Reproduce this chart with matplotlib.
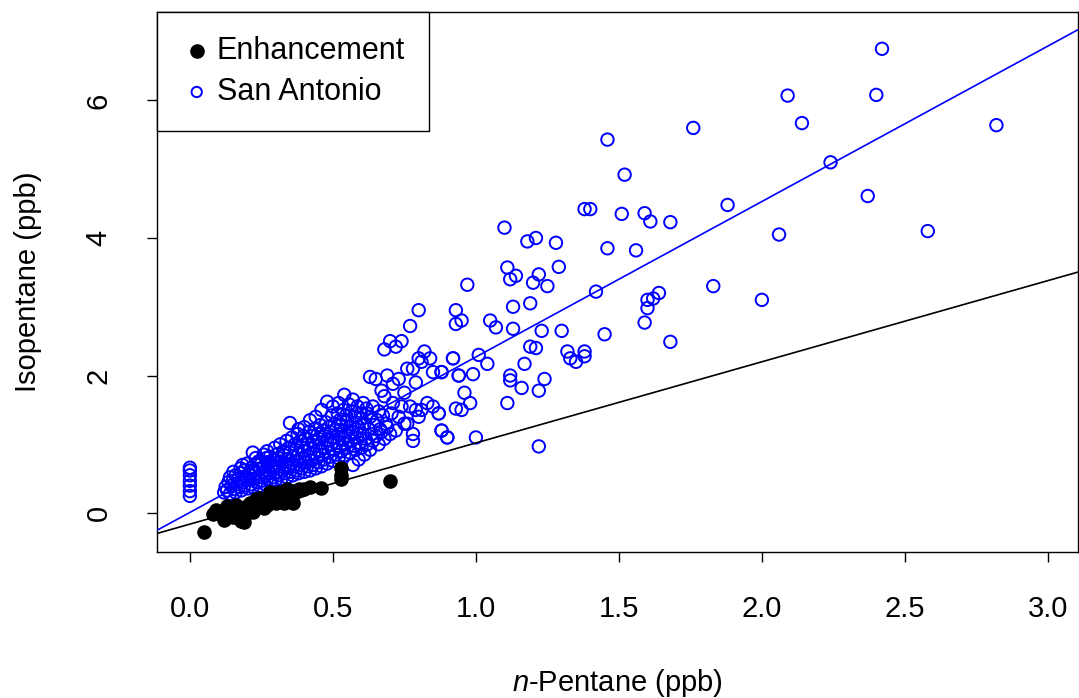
import numpy as np
import matplotlib.pyplot as plt

plt.rcParams['font.family'] = ['Liberation Sans', 'DejaVu Sans']
plt.rcParams['mathtext.fontset'] = 'custom'
plt.rcParams['mathtext.it'] = 'Liberation Sans:italic'
plt.rcParams['mathtext.rm'] = 'Liberation Sans'

# Enhancement points (n-pentane, isopentane), ppb
enhancement = [
    (0.05, -0.27), (0.08, -0.02), (0.09, 0.05), (0.10, 0.00), (0.12, -0.10),
    (0.13, 0.10), (0.14, 0.05), (0.15, -0.05), (0.16, 0.12), (0.17, 0.00),
    (0.18, -0.12), (0.18, 0.05), (0.19, -0.13), (0.20, 0.10), (0.21, 0.15),
    (0.22, 0.08), (0.23, 0.20), (0.24, 0.12), (0.25, 0.10), (0.26, 0.20),
    (0.26, 0.08), (0.27, 0.22), (0.28, 0.15), (0.28, 0.30), (0.29, 0.20),
    (0.30, 0.25), (0.30, 0.15), (0.31, 0.30), (0.32, 0.20), (0.33, 0.28),
    (0.33, 0.15), (0.34, 0.35), (0.35, 0.25), (0.36, 0.15), (0.37, 0.30),
    (0.38, 0.35), (0.40, 0.35), (0.42, 0.38), (0.46, 0.37), (0.53, 0.50),
    (0.53, 0.55), (0.53, 0.65), (0.70, 0.47), (0.22, 0.02), (0.19, -0.05),
    (0.24, 0.22), (0.27, 0.12), (0.36, 0.32), (0.39, 0.33), (0.15, 0.08),
]

# San Antonio: samples with zero n-pentane
sa_zero = [(0.0, 0.25), (0.0, 0.32), (0.0, 0.40), (0.0, 0.47), (0.0, 0.55),
           (0.0, 0.62), (0.0, 0.66)]

# San Antonio: dense low-concentration cluster
sa_dense = [
    (0.12, 0.30), (0.125, 0.38), (0.13, 0.33), (0.135, 0.45), (0.14, 0.28),
    (0.145, 0.40), (0.14, 0.52), (0.155, 0.35), (0.15, 0.47), (0.152, 0.60),
    (0.16, 0.30), (0.165, 0.42), (0.16, 0.55), (0.172, 0.38), (0.17, 0.50),
    (0.177, 0.65), (0.18, 0.33), (0.186, 0.45), (0.18, 0.58), (0.184, 0.70),
    (0.19, 0.40), (0.196, 0.52), (0.19, 0.62), (0.203, 0.36), (0.20, 0.48),
    (0.207, 0.57), (0.20, 0.72),
    (0.213, 0.42), (0.21, 0.55), (0.216, 0.66), (0.22, 0.38), (0.224, 0.50),
    (0.22, 0.62), (0.22, 0.88), (0.233, 0.45), (0.23, 0.58), (0.236, 0.70),
    (0.23, 0.80), (0.244, 0.40), (0.24, 0.52), (0.247, 0.65), (0.24, 0.75),
    (0.25, 0.47), (0.255, 0.60), (0.25, 0.72), (0.258, 0.85), (0.26, 0.43),
    (0.264, 0.55), (0.26, 0.68), (0.267, 0.80), (0.27, 0.50), (0.275, 0.62),
    (0.27, 0.74), (0.27, 0.90), (0.283, 0.46), (0.28, 0.58), (0.286, 0.70),
    (0.28, 0.82), (0.29, 0.52), (0.294, 0.65), (0.29, 0.77), (0.297, 0.95),
    (0.30, 0.48), (0.305, 0.60), (0.30, 0.73), (0.307, 0.86),
    (0.31, 0.55), (0.314, 0.68), (0.31, 0.80), (0.316, 1.00), (0.32, 0.50),
    (0.325, 0.62), (0.32, 0.75), (0.327, 0.90), (0.33, 0.58), (0.334, 0.70),
    (0.33, 0.84), (0.338, 1.05), (0.34, 0.52), (0.345, 0.66), (0.34, 0.78),
    (0.346, 0.95), (0.35, 0.60), (0.355, 0.72), (0.35, 0.88), (0.357, 1.10),
    (0.35, 1.31), (0.36, 0.55), (0.364, 0.68), (0.36, 0.82), (0.367, 1.00),
    (0.37, 0.62), (0.374, 0.76), (0.37, 0.92), (0.377, 1.15), (0.38, 0.58),
    (0.385, 0.70), (0.38, 0.86), (0.386, 1.05), (0.38, 1.22), (0.39, 0.65),
    (0.394, 0.80), (0.39, 0.96), (0.397, 1.12), (0.40, 0.60), (0.405, 0.74),
    (0.40, 0.90), (0.404, 1.08), (0.40, 1.25),
    (0.41, 0.68), (0.415, 0.82), (0.41, 1.00), (0.417, 1.18), (0.42, 0.62),
    (0.425, 0.76), (0.42, 0.94), (0.426, 1.12), (0.42, 1.35), (0.43, 0.70),
    (0.434, 0.86), (0.43, 1.04), (0.436, 1.22), (0.44, 0.65), (0.445, 0.80),
    (0.44, 0.98), (0.447, 1.15), (0.44, 1.40), (0.45, 0.74), (0.455, 0.90),
    (0.45, 1.08), (0.456, 1.28), (0.46, 0.68), (0.464, 0.84), (0.46, 1.02),
    (0.466, 1.20), (0.46, 1.50), (0.47, 0.78), (0.474, 0.95), (0.47, 1.12),
    (0.476, 1.32), (0.48, 0.72), (0.485, 0.88), (0.48, 1.06), (0.486, 1.25),
    (0.48, 1.62), (0.49, 0.82), (0.494, 1.00), (0.49, 1.18), (0.496, 1.42),
    (0.50, 0.76), (0.505, 0.92), (0.50, 1.10), (0.506, 1.30), (0.50, 1.55),
    (0.51, 0.85), (0.515, 1.02), (0.51, 1.22), (0.517, 1.45), (0.52, 0.80),
    (0.524, 0.96), (0.52, 1.15), (0.526, 1.36), (0.52, 1.60), (0.53, 0.90),
    (0.535, 1.08), (0.53, 1.28), (0.537, 1.50), (0.54, 0.84), (0.544, 1.00),
    (0.54, 1.20), (0.546, 1.42), (0.54, 1.72), (0.55, 0.95), (0.555, 1.12),
    (0.55, 1.35), (0.556, 1.58), (0.56, 0.88), (0.564, 1.05), (0.56, 1.26),
    (0.566, 1.48), (0.57, 0.70), (0.574, 0.98), (0.57, 1.18), (0.577, 1.40),
    (0.57, 1.65), (0.58, 0.92), (0.585, 1.10), (0.58, 1.32), (0.586, 1.55),
    (0.59, 0.78), (0.594, 1.02), (0.59, 1.25), (0.597, 1.45), (0.60, 0.95),
    (0.605, 1.15), (0.60, 1.38), (0.606, 1.60),
    (0.61, 0.85), (0.615, 1.08), (0.61, 1.30), (0.617, 1.52), (0.62, 1.00),
    (0.625, 1.22), (0.62, 1.45), (0.63, 0.92), (0.635, 1.15), (0.63, 1.40),
    (0.63, 1.98), (0.64, 1.05), (0.645, 1.28), (0.64, 1.55), (0.65, 1.12),
    (0.655, 1.35), (0.65, 1.95), (0.66, 1.00), (0.665, 1.22), (0.66, 1.48),
    (0.67, 1.18), (0.675, 1.42), (0.67, 1.78), (0.68, 1.08), (0.685, 1.30),
    (0.68, 1.70), (0.68, 2.38), (0.69, 1.25), (0.69, 2.00), (0.70, 1.15),
    (0.705, 1.45), (0.70, 2.50),
    (0.71, 1.60), (0.71, 1.88), (0.72, 1.20), (0.72, 2.42), (0.73, 1.40),
    (0.73, 1.95), (0.74, 2.50), (0.74, 1.55), (0.75, 1.30), (0.75, 1.75),
    (0.76, 1.30), (0.76, 2.10), (0.77, 2.72), (0.77, 1.55), (0.78, 1.15),
    (0.78, 2.10), (0.78, 1.05), (0.79, 1.90), (0.79, 1.50), (0.80, 2.95),
    (0.80, 1.40), (0.80, 2.25), (0.81, 1.50), (0.81, 2.20), (0.82, 2.35),
    (0.83, 1.60), (0.84, 2.25), (0.85, 2.05), (0.85, 1.55), (0.87, 1.45),
    (0.88, 1.20), (0.88, 2.05), (0.90, 1.10), (0.92, 2.25), (0.94, 2.00),
]

# San Antonio: sparse high-concentration samples
sa_sparse = [
    (2.42, 6.75), (2.09, 6.07), (2.40, 6.08), (2.14, 5.67), (1.76, 5.60),
    (2.82, 5.64), (1.46, 5.43), (2.24, 5.10), (1.52, 4.92), (2.37, 4.61),
    (1.88, 4.48), (1.38, 4.42), (1.40, 4.42), (1.51, 4.35), (1.59, 4.36),
    (1.10, 4.15), (1.61, 4.24), (1.68, 4.23), (2.58, 4.10), (2.06, 4.05),
    (1.21, 4.00), (1.18, 3.95), (1.28, 3.93), (1.46, 3.85), (1.56, 3.82),
    (1.29, 3.58), (1.11, 3.57), (0.97, 3.32), (1.83, 3.30), (1.42, 3.22),
    (1.64, 3.20), (1.14, 3.45), (1.12, 3.40), (1.20, 3.35), (1.60, 3.10),
    (1.62, 3.12), (2.00, 3.10), (1.25, 3.30), (1.22, 3.47), (1.19, 3.05),
    (1.13, 3.00), (0.93, 2.95), (0.95, 2.80), (0.93, 2.75), (1.59, 2.77),
    (1.60, 2.98), (1.05, 2.80), (1.07, 2.70), (1.13, 2.68), (1.23, 2.65),
    (1.30, 2.65), (1.21, 2.40), (1.45, 2.60), (1.68, 2.49), (1.32, 2.35),
    (1.33, 2.25), (1.35, 2.20), (1.38, 2.35), (1.38, 2.28), (1.12, 2.00),
    (1.12, 1.93), (1.17, 2.17), (1.19, 2.42), (1.24, 1.95), (1.22, 1.78),
    (1.16, 1.82), (1.11, 1.60), (1.22, 0.97), (1.01, 2.30), (1.04, 2.17),
    (0.99, 2.02), (0.96, 1.75), (0.98, 1.60), (0.95, 1.50), (0.93, 1.52),
    (0.87, 1.45), (0.88, 1.20), (0.90, 1.10), (1.00, 1.10), (0.94, 2.00),
    (0.92, 2.25), (0.88, 2.05),
]

# fitted lines (intercept, slope)
fit_sa = (0.01, 2.26)
fit_enh = (-0.16, 1.18)

sa = np.array(sa_zero + sa_dense + sa_sparse)
enh = np.array(enhancement)

fig = plt.figure(figsize=(10.79, 6.98), dpi=100)
ax = fig.add_axes([0.1455, 0.209, 0.8535, 0.774])

ax.scatter(enh[:, 0], enh[:, 1], s=90, c='black', edgecolors='black',
           linewidths=1, label='Enhancement', zorder=3)
ax.scatter(sa[:, 0], sa[:, 1], s=80, facecolors='none', edgecolors='blue',
           linewidths=1.4, label='San Antonio', zorder=2)

xx = np.array([-0.2, 3.2])
ax.plot(xx, fit_sa[0] + fit_sa[1] * xx, color='blue', lw=1.2, zorder=4)
ax.plot(xx, fit_enh[0] + fit_enh[1] * xx, color='black', lw=1.2, zorder=4)

ax.set_xlim(-0.115, 3.105)
ax.set_ylim(-0.567, 7.287)

ax.set_xticks([0.0, 0.5, 1.0, 1.5, 2.0, 2.5, 3.0])
ax.set_xticklabels(['0.0', '0.5', '1.0', '1.5', '2.0', '2.5', '3.0'])
ax.set_yticks([0, 2, 4, 6])
ax.set_yticklabels(['0', '2', '4', '6'], rotation=90, va='center')
ax.tick_params(axis='both', direction='out', length=7, width=1,
               labelsize=21)
ax.tick_params(axis='x', pad=24)
ax.tick_params(axis='y', pad=25)

for sp in ax.spines.values():
    sp.set_linewidth(1)
    sp.set_color('black')

ax.set_xlabel('$\\it{n}$-Pentane (ppb)', fontsize=21)
ax.xaxis.set_label_coords(0.5, -0.2426)
ax.xaxis.label.set_verticalalignment('center')
ax.set_ylabel('Isopentane (ppb)', fontsize=21)
ax.yaxis.set_label_coords(-0.140, 0.5)
ax.yaxis.label.set_verticalalignment('center')

leg = ax.legend(loc='upper left', bbox_to_anchor=(0, 1), borderaxespad=0,
                fancybox=False, edgecolor='black', framealpha=1,
                fontsize=22, handletextpad=0.15, borderpad=0.8,
                labelspacing=0.35, handlelength=1.0)
leg.get_frame().set_linewidth(1)
leg.legend_handles[1].set_sizes([55])

fig.savefig('out.png', dpi=100)
